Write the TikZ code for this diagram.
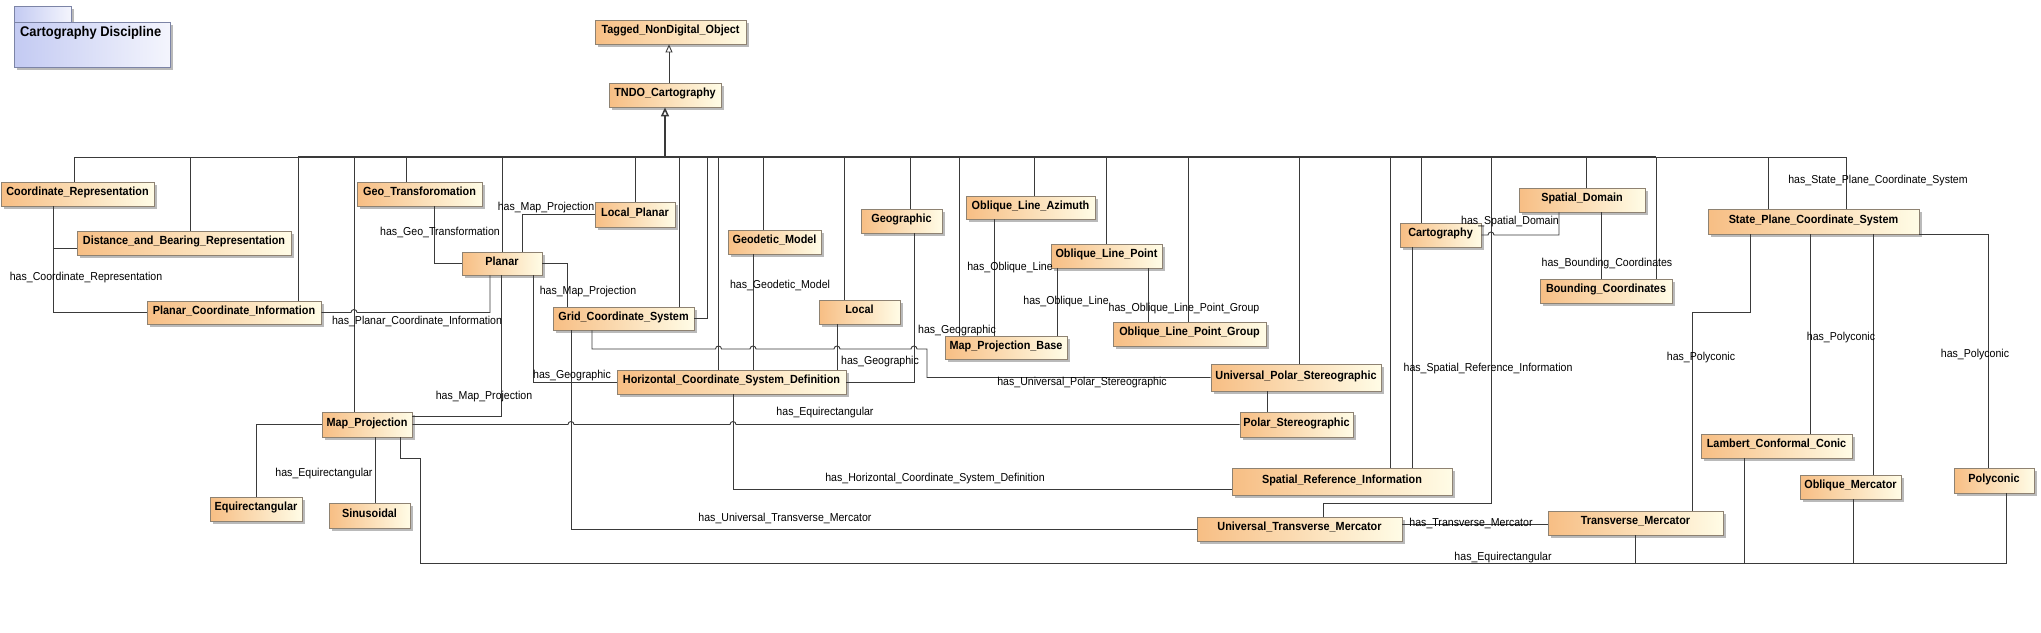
\documentclass[tikz,border=0pt]{standalone}
\usepackage{fontspec}
\setmainfont{Liberation Sans}
\newfontfamily\narf[FakeStretch=0.92]{Liberation Sans}
\usetikzlibrary{shadows,arrows.meta}

\definecolor{boxL}{HTML}{F7BE84}
\definecolor{boxR}{HTML}{FFFCE6}
\definecolor{boxD}{HTML}{8E8272}
\definecolor{lineC}{HTML}{3A3A3A}
\definecolor{pkgL}{HTML}{C3CAF2}
\definecolor{pkgR}{HTML}{F4F5FD}
\definecolor{pkgD}{HTML}{7C84A6}

\tikzset{
 cbox/.style={draw=boxD, line width=0.8pt, left color=boxL, right color=boxR,
   font=\narf\fontsize{11.8}{13}\selectfont\bfseries, text height=6.5pt, text depth=3.5pt, inner sep=0pt,
   drop shadow={shadow xshift=2.5pt, shadow yshift=-2.5pt, fill=black!45, opacity=0.6}},
 pkgbox/.style={draw=pkgD, line width=0.8pt, left color=pkgL, right color=pkgR, inner sep=0pt,
   drop shadow={shadow xshift=2.5pt, shadow yshift=-2.5pt, fill=black!45, opacity=0.6}},
 lbl/.style={font=\narf\fontsize{11.5}{13}\selectfont, inner sep=0pt, text=black},
 conn/.style={draw=lineC, line width=0.9pt},
 gen/.style={draw=lineC, line width=0.9pt},
 bus/.style={draw=lineC, line width=2.4pt},
}

\newcommand\cb[6]{%
 \pgfmathsetmacro\cbw{#4-#2}\pgfmathsetmacro\cbh{#5-#3}%
 \node[cbox, minimum width=\cbw pt, minimum height=\cbh pt] (#1) at ({(#2+#4)/2},{(#3+#5)/2}) {#6};}
\newcommand\gv[2]{\draw[gen] (#1.north -| #2,0) -- (#2,157);}

\begin{document}
\begin{tikzpicture}[x=1pt,y=-1pt]
\useasboundingbox[fill=white] (0,0) rectangle (2041,632);

% package
\draw[pkgbox] (14,6) rectangle (71,22);
\node[pkgbox, minimum width=156pt, minimum height=45pt] (pkg) at (92,44.5) {};
\node[anchor=west, font=\narf\fontsize{14}{16}\selectfont\bfseries, inner sep=0pt] (pkgt) at (20,33) {Cartography Discipline};

% classes
\cb{tagged}{595}{20}{746}{44}{Tagged\_NonDigital\_Object}
\cb{tndo}{609}{83}{721}{107}{TNDO\_Cartography}
\cb{coordrep}{1}{182}{154}{206}{Coordinate\_Representation}
\cb{dist}{77}{231}{291}{255}{Distance\_and\_Bearing\_Representation}
\cb{pci}{147}{301}{321}{324}{Planar\_Coordinate\_Information}
\cb{geotrans}{357}{182}{482}{206}{Geo\_Transforomation}
\cb{localplanar}{595}{202}{675}{227}{Local\_Planar}
\cb{planar}{462}{252}{542}{275}{Planar}
\cb{grid}{553}{307}{694}{330}{Grid\_Coordinate\_System}
\cb{mapproj}{322}{412}{412}{437}{Map\_Projection}
\cb{equirect}{210}{497}{302}{521}{Equirectangular}
\cb{sinus}{329}{503}{410}{528}{Sinusoidal}
\cb{geodetic}{728}{230}{821}{254}{Geodetic\_Model}
\cb{geographic}{861}{209}{942}{233}{Geographic}
\cb{local}{819}{300}{900}{324}{Local}
\cb{ola}{966}{196}{1095}{219}{Oblique\_Line\_Azimuth}
\cb{hcsd}{617}{370}{846}{394}{Horizontal\_Coordinate\_System\_Definition}
\cb{mpb}{945}{336}{1067}{359}{Map\_Projection\_Base}
\cb{olp}{1051}{244}{1162}{268}{Oblique\_Line\_Point}
\cb{olpg}{1113}{322}{1266}{346}{Oblique\_Line\_Point\_Group}
\cb{ups}{1211}{364}{1381}{391}{Universal\_Polar\_Stereographic}
\cb{cart}{1400}{223}{1481}{247}{Cartography}
\cb{sd}{1519}{188}{1645}{212}{Spatial\_Domain}
\cb{bc}{1540}{279}{1672}{303}{Bounding\_Coordinates}
\cb{spcs}{1708}{209}{1919}{234}{State\_Plane\_Coordinate\_System}
\cb{ps}{1240}{412}{1353}{437}{Polar\_Stereographic}
\cb{sri}{1232}{468}{1452}{495}{Spatial\_Reference\_Information}
\cb{utm}{1197}{517}{1402}{541}{Universal\_Transverse\_Mercator}
\cb{tm}{1548}{511}{1723}{535}{Transverse\_Mercator}
\cb{lcc}{1701}{434}{1852}{458}{Lambert\_Conformal\_Conic}
\cb{om}{1800}{475}{1901}{499}{Oblique\_Mercator}
\cb{poly}{1954}{468}{2034}{493}{Polyconic}

% generalization bus
\coordinate (busA) at (74.5,157);
\coordinate (busB) at (298,157);
\coordinate (busC) at (1656,157);
\coordinate (busD) at (1846,157);
\coordinate (busM) at (665,157);
\draw[gen] (busA) -- (busB);
\draw[bus] (busB) -- (busC);
\draw[bus, -{Triangle[open, length=9pt, width=8pt, line width=1.5pt]}] (busM) -- (tndo.south -| 665,0);
\draw[gen, -{Triangle[open, length=8pt, width=7pt]}] (tndo.north -| 669,0) -- (tagged.south -| 669,0);

\gv{coordrep}{74.5}
\gv{dist}{190}
\gv{pci}{298}
\gv{mapproj}{354}
\gv{geotrans}{406}
\gv{planar}{502}
\gv{localplanar}{635}
\gv{grid}{679}
\draw[gen] (grid.east |- 0,318) -| (707.5,157);
\gv{hcsd}{718.5}
\gv{geodetic}{763}
\gv{local}{844}
\gv{geographic}{910}
\gv{mpb}{959}
\gv{ola}{1034}
\gv{olp}{1106}
\gv{olpg}{1188}
\gv{ups}{1299}
\gv{sri}{1390}
\gv{cart}{1421}
\draw[gen] (utm.north -| 1323,0) |- (1491,503) -- (1491,157);
\gv{sd}{1586}
\gv{spcs}{1768}
\draw[conn] (bc.north -| 1656,0) -- (busC) -- (busD) -- (spcs.north -| 1846,0);

% associations
\coordinate (cr) at (53.6,248);
\draw[conn] (coordrep.south -| 53.6,0) |- (pci.west);
\draw[conn] (cr) -- (dist.west |- cr);
\draw[conn] (geotrans.south -| 434,0) |- (planar.west);
\draw[conn] (planar.north -| 522,0) |- (localplanar.west);
\draw[conn] (planar.east) -| (grid.north -| 567,0);
\draw[conn] (pci.east) -- (351,312.5) arc[start angle=180,end angle=0,radius=3pt] -- (490,312.5) -- (planar.south -| 490,0);
\draw[conn] (planar.south -| 501,0) |- (mapproj.east |- 0,416);
\draw[conn] (planar.south -| 533,0) |- (hcsd.west);
\draw[conn] (mapproj.west) -| (equirect.north -| 256,0);
\draw[conn] (mapproj.south -| 375,0) -- (sinus.north -| 375,0);
\coordinate (eqB) at (2006,563);
\draw[conn] (mapproj.south -| 400,0) -- (400,458) -- (420,458) -- (420,563) -- (eqB) -- (poly.south -| eqB);
\draw[conn] (tm.south -| 1635,0) -- (1635,563);
\draw[conn] (lcc.south -| 1744,0) -- (1744,563);
\draw[conn] (om.south -| 1853,0) -- (1853,563);
\draw[conn] (mapproj.east) -- (568,424.5) arc[start angle=180,end angle=0,radius=3pt] -- (730,424.5) arc[start angle=180,end angle=0,radius=3pt] -- (ps.west);
\draw[conn] (grid.south -| 571,0) |- (utm.west);
\draw[conn] (grid.south -| 592,0) -- (592,349) -- (715.5,349) arc[start angle=180,end angle=0,radius=3pt] -- (750,349) arc[start angle=180,end angle=0,radius=3pt] -- (834,349) arc[start angle=180,end angle=0,radius=3pt] -- (911,349) arc[start angle=180,end angle=0,radius=3pt] -- (927,349) -- (927,377.5) -- (ups.west);
\draw[conn] (hcsd.south -| 733,0) |- (sri.west |- 0,489);
\draw[conn] (geodetic.south -| 753,0) -- (hcsd.north -| 753,0);
\draw[conn] (local.south -| 837,0) -- (hcsd.north -| 837,0);
\draw[conn] (geographic.south -| 914,0) |- (hcsd.east);
\draw[conn] (ola.south -| 994,0) -- (mpb.north -| 994,0);
\draw[conn] (olp.south -| 1057,0) -- (mpb.north -| 1057,0);
\draw[conn] (olp.south -| 1148,0) -- (olpg.north -| 1148,0);
\draw[conn] (ups.south -| 1267,0) -- (ps.north -| 1267,0);
\draw[conn] (cart.east) -- (1488,235) arc[start angle=180,end angle=0,radius=3pt] -- (1559,235) -- (sd.south -| 1559,0);
\draw[conn] (sd.south -| 1601,0) -- (bc.north -| 1601,0);
\draw[conn] (cart.south -| 1412,0) -- (sri.north -| 1412,0);
\draw[conn] (spcs.south -| 1750,0) |- (1692,312) -- (tm.north -| 1692,0);
\draw[conn] (spcs.south -| 1810,0) -- (lcc.north -| 1810,0);
\draw[conn] (spcs.south -| 1873,0) -- (om.north -| 1873,0);
\draw[conn] (spcs.south east) -| (poly.north -| 1988,0);
\draw[conn] (utm.east |- 0,524) -- (tm.west |- 0,524);

% labels
\node[lbl] (l1) at (86,278) {has\_Coordinate\_Representation};
\node[lbl] (l2) at (440,232) {has\_Geo\_Transformation};
\node[lbl] (l3) at (546,208) {has\_Map\_Projection};
\node[lbl] (l4) at (588,292) {has\_Map\_Projection};
\node[lbl] (l5) at (417,321) {has\_Planar\_Coordinate\_Information};
\node[lbl] (l6) at (484,397) {has\_Map\_Projection};
\node[lbl] (l7) at (572,376) {has\_Geographic};
\node[lbl] (l8) at (324,474) {has\_Equirectangular};
\node[lbl] (l9) at (825,413) {has\_Equirectangular};
\node[lbl] (l10) at (785,518) {has\_Universal\_Transverse\_Mercator};
\node[lbl] (l11) at (1082,383) {has\_Universal\_Polar\_Stereographic};
\node[lbl] (l12) at (935,479) {has\_Horizontal\_Coordinate\_System\_Definition};
\node[lbl] (l13) at (780,285) {has\_Geodetic\_Model};
\node[lbl] (l14) at (880,362) {has\_Geographic};
\node[lbl] (l15) at (957,331) {has\_Geographic};
\node[lbl] (l16) at (1010,268) {has\_Oblique\_Line};
\node[lbl] (l17) at (1066,302) {has\_Oblique\_Line};
\node[lbl] (l18) at (1184,309) {has\_Oblique\_Line\_Point\_Group};
\node[lbl] (l19) at (1510,222) {has\_Spatial\_Domain};
\node[lbl] (l20) at (1607,264) {has\_Bounding\_Coordinates};
\node[lbl] (l21) at (1488,369) {has\_Spatial\_Reference\_Information};
\node[lbl] (l22) at (1878,181) {has\_State\_Plane\_Coordinate\_System};
\node[lbl] (l23) at (1701,358) {has\_Polyconic};
\node[lbl] (l24) at (1841,338) {has\_Polyconic};
\node[lbl] (l25) at (1975,355) {has\_Polyconic};
\node[lbl] (l26) at (1471,523) {has\_Transverse\_Mercator};
\node[lbl] (l27) at (1503,558) {has\_Equirectangular};
\end{tikzpicture}
\end{document}
